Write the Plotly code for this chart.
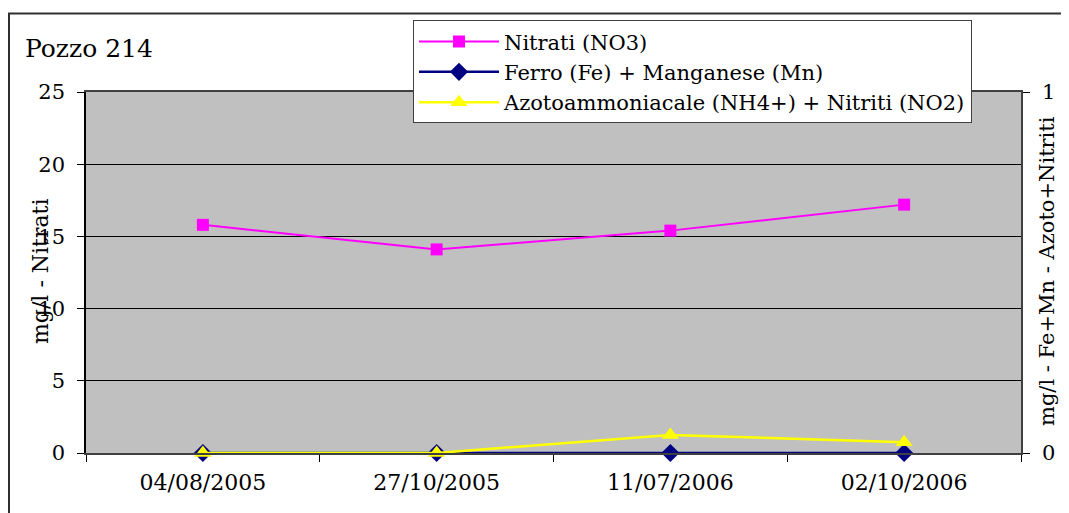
import plotly.graph_objects as go

dates = ["04/08/2005", "27/10/2005", "11/07/2006", "02/10/2006"]
nitrati = [15.8, 14.1, 15.4, 17.2]
ferro_manganese = [0.0, 0.0, 0.0, 0.0]
azoto_nitriti = [0.0, 0.0, 0.05, 0.03]

FONT = "DejaVu Serif"

fig = go.Figure()
fig.add_trace(go.Scatter(
    x=dates, y=nitrati, name="Nitrati (NO3)", mode="lines+markers",
    line=dict(color="#FF00FF", width=2),
    marker=dict(symbol="square", size=12, color="#FF00FF"),
    legendgroup="a", cliponaxis=False, yaxis="y"))
fig.add_trace(go.Scatter(
    x=dates, y=ferro_manganese, name="Ferro (Fe) + Manganese (Mn)", mode="lines+markers",
    line=dict(color="#000080", width=2.5),
    marker=dict(symbol="diamond", size=14, color="#000080"),
    legendgroup="b", cliponaxis=False, yaxis="y2"))
fig.add_trace(go.Scatter(
    x=dates, y=azoto_nitriti, name="Azotoammoniacale (NH4+) + Nitriti (NO2)", mode="lines+markers",
    line=dict(color="#FFFF00", width=2.5),
    marker=dict(symbol="triangle-up", size=15, color="#FFFF00"),
    legendgroup="c", cliponaxis=False, yaxis="y2"))

# screen-pixel layout (page body has an 8px margin)
OFF = 8
L, R, T, B = 86, 1021, 90, 453
W, H = R - L, B - T

def px_x(p):
    return (p - L) / W

def px_y(p):
    return (B - p) / H

fig.update_layout(
    width=1069 - OFF, height=513 - OFF,
    margin=dict(l=L - OFF, r=1069 - R, t=T - OFF, b=513 - B, pad=0),
    paper_bgcolor="white", plot_bgcolor="#C0C0C0",
    font=dict(family=FONT, size=21, color="black"),
    showlegend=True,
    legend=dict(
        x=px_x(413), y=px_y(18), xanchor="left", yanchor="top",
        bgcolor="white", bordercolor="#404040", borderwidth=1,
        font=dict(family=FONT, size=21, color="black"),
        tracegroupgap=3, traceorder="normal", itemwidth=80,
    ),
    xaxis=dict(
        type="category", range=[-0.5, 3.5], showgrid=False, showline=True,
        linecolor="#404040", linewidth=1.5, mirror=True, ticks="outside",
        ticklen=7, tickcolor="black", tickson="boundaries",
        tickfont=dict(family=FONT, size=22), zeroline=False, ticklabelstandoff=9,
    ),
    yaxis=dict(
        range=[0, 25], dtick=5, showgrid=True, gridcolor="black", gridwidth=1,
        showline=True, linecolor="black", linewidth=1.5, ticks="outside",
        ticklen=7, tickcolor="black", zeroline=False, ticklabelstandoff=8,
        tickfont=dict(family=FONT, size=21),
    ),
    yaxis2=dict(
        range=[0, 1], dtick=1, overlaying="y", side="right", showgrid=False,
        showline=True, linecolor="#404040", linewidth=1.5, ticks="outside",
        ticklen=7, tickcolor="black", zeroline=False, ticklabelstandoff=8,
        tickfont=dict(family=FONT, size=21),
    ),
    shapes=[dict(
        type="rect", xref="paper", yref="paper",
        x0=px_x(9), x1=px_x(1090), y0=px_y(530), y1=px_y(11),
        line=dict(color="#303030", width=2), fillcolor="rgba(0,0,0,0)", layer="below",
    )],
    annotations=[
        dict(text="Pozzo 214", xref="paper", yref="paper", x=px_x(23), y=px_y(46),
             xanchor="left", yanchor="middle", showarrow=False,
             font=dict(family=FONT, size=25)),
        dict(text="mg/l - Nitrati", xref="paper", yref="paper", x=px_x(40), y=px_y(271),
             xanchor="center", yanchor="middle", showarrow=False, textangle=-90,
             font=dict(family=FONT, size=22)),
        dict(text="mg/l - Fe+Mn - Azoto+Nitriti", xref="paper", yref="paper",
             x=px_x(1047), y=px_y(270), xanchor="center", yanchor="middle",
             showarrow=False, textangle=-90, font=dict(family=FONT, size=21)),
    ],
)

fig.write_html("out.html")
